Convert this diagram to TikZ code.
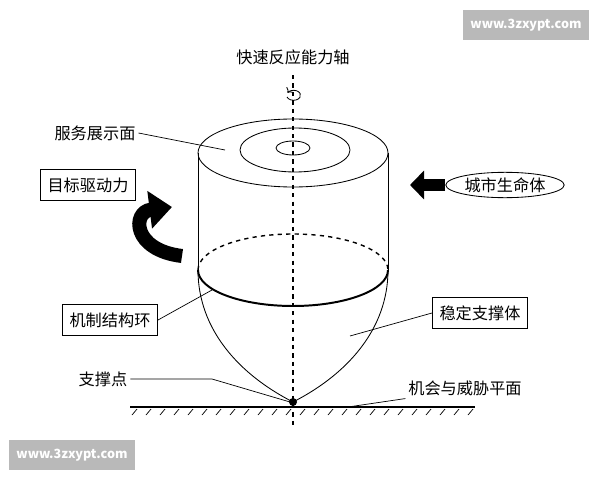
\documentclass[tikz,border=0pt]{standalone}
\usepackage{fontspec}
\setmainfont{Noto Sans CJK SC}
\usetikzlibrary{arrows.meta,shapes.geometric,calc}

\tikzset{
  lab/.style={font=\fontsize{11.5pt}{13pt}\selectfont, inner sep=2pt},
  boxlab/.style={lab, draw, line width=0.8pt, minimum height=22pt, inner xsep=5pt},
  lead/.style={line width=0.5pt},
  wm/.style={fill=gray!55, text=white, font=\fontsize{9pt}{11pt}\selectfont\bfseries, minimum width=90pt, minimum height=21pt, inner sep=0pt}
}

\begin{document}
\begin{tikzpicture}[x=0.025cm,y=-0.025cm]
	\useasboundingbox (0,0) rectangle (600,480);

	\draw[line width=1pt,dashed] (293,75) -- (293,425); %axis
	\node[lab] (axis) at (293,57) {快速反应能力轴};
	\draw[line width=0.6pt,->] (287,97) arc[x radius=7,y radius=5,start angle=160,end angle=-150];

	% cylinder
	\draw[line width=0.6pt] (293,153) ellipse[x radius=95,y radius=34];
	\draw[line width=0.6pt] (295,150) ellipse[x radius=55,y radius=22];
	\draw[line width=0.6pt] (293,148) ellipse[x radius=17,y radius=7];
	\draw[line width=0.6pt] (198,153) -- (198,270);
	\draw[line width=0.6pt] (388,153) -- (388,270);
	\draw[line width=1pt,dashed] (198,270) arc[x radius=95,y radius=36,start angle=180,end angle=360];
	\draw[line width=1.4pt] (388,270) arc[x radius=95,y radius=36,start angle=0,end angle=180];

	% bowl
	\coordinate (tip) at (293,402);
	\draw[line width=0.6pt] (198,270) .. controls (198,330) and (240,375) .. (tip);
	\draw[line width=0.6pt] (388,270) .. controls (388,330) and (346,375) .. (tip);
	\fill (tip) circle[radius=4];

	% ground
	\draw[line width=0.8pt] (130,407) -- (475,407);
	\foreach \x in {132,146,...,468}
		\draw[line width=0.5pt] (\x,415) -- (\x+5,409);

	% labels
	\node[lab] (face) at (95,133) {服务展示面};
	\draw[lead] (face.east) -- (225,150);
	\node[boxlab] (drive) at (88,185) {目标驱动力};
	\draw[line width=10pt,-{Triangle[width=26pt,length=16pt]}] (182,256) .. controls (132,250) and (132,212) .. (172,207);
	\node[lab,draw,ellipse,line width=0.6pt,inner sep=1pt] (city) at (505,185) {城市生命体};
	\draw[line width=9pt,-{Triangle[width=20pt,length=10pt]}] (445,185) -- (410,185);
	\node[boxlab] (ring) at (110,320) {机制结构环};
	\draw[lead] (ring.east) -- (212,290);
	\node[boxlab] (body) at (480,313) {稳定支撑体};
	\draw[lead] (body.west) -- (350,336);
	\node[lab] (point) at (103,379) {支撑点};
	\coordinate (pbend) at (212,379);
	\draw[lead] (point.east) -- (pbend) -- (290,402);
	\node[lab] (plane) at (465,388) {机会与威胁平面};
	\draw[lead] (plane.south west) -- (348,407);

	% watermarks
	\node[wm] (wm1) at (526,25) {www.3zxypt.com};
	\node[wm] (wm2) at (72,455) {www.3zxypt.com};
\end{tikzpicture}
\end{document}
